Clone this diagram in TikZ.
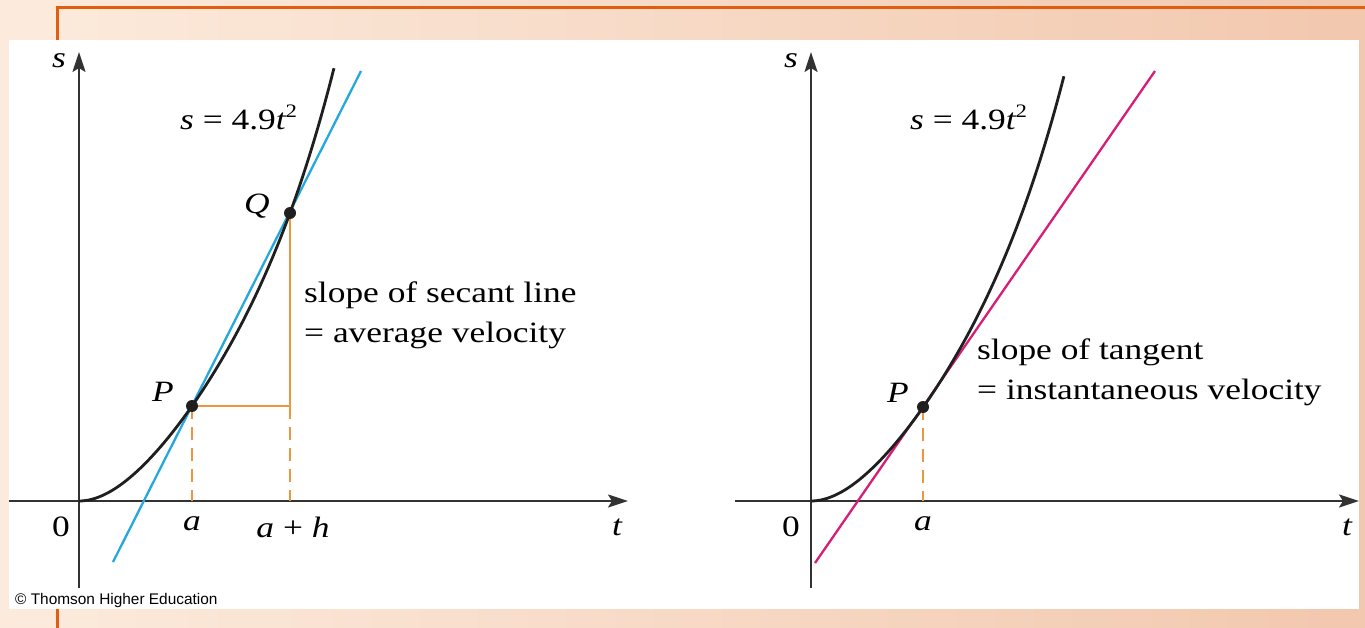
\documentclass[tikz,border=0pt]{standalone}
\usepackage{fontspec}
\setmainfont{Liberation Serif}[FakeStretch=1.2]
\newfontfamily\sansf{Liberation Sans}
\usetikzlibrary{arrows.meta}
\definecolor{bgL}{RGB}{252,235,221}
\definecolor{bgR}{RGB}{242,200,174}
\definecolor{frameor}{RGB}{224,94,14}
\definecolor{axisgray}{RGB}{50,50,50}
\definecolor{secblue}{RGB}{38,168,222}
\definecolor{tanmag}{RGB}{214,30,120}
\definecolor{guideor}{RGB}{236,150,62}
\begin{document}
\begin{tikzpicture}[x=1pt,y=-1pt,
  axis/.style={draw=axisgray,line width=2pt,-{Stealth[length=20pt,width=13pt,inset=4pt]}},
  curve/.style={draw=black!88,line width=2.8pt},
  secant/.style={draw=secblue,line width=2.3pt},
  tangentln/.style={draw=tanmag,line width=2.3pt},
  guide/.style={draw=guideor,line width=2.6pt},
  guidedash/.style={draw=guideor,line width=2.6pt,dash pattern=on 13pt off 8pt},
  dotpt/.style={fill=black!88},
  lab/.style={inner sep=0pt,font=\fontsize{29.5}{40}\selectfont},
  ilab/.style={inner sep=0pt,font=\fontsize{29.5}{40}\selectfont\itshape},
  txt/.style={inner sep=0pt,anchor=base west,align=left,font=\fontsize{29.5}{40}\selectfont}
]
\useasboundingbox (0,0) rectangle (1365,628);
\shade[left color=bgL,right color=bgR] (0,0) rectangle (1365,628);
\draw[frameor,line width=3pt] (57,628) -- (57,8) -- (1365,8);
\fill[white] (9,40) rectangle (1359,609);

% ---------- left graph ----------
\coordinate (O1) at (79,501);
\coordinate (S1b) at (79,588);
\coordinate (S1t) at (79,52);
\coordinate (T1l) at (9,501);
\coordinate (T1r) at (628,501);
\coordinate (P1) at (192,406);
\coordinate (Q1) at (290,213);
\coordinate (C1) at (290,406);
\coordinate (A1) at (192,501);
\coordinate (A2) at (290,501);
\coordinate (B1) at (113,562);
\coordinate (B2) at (361,71);

\draw[axis] (S1b) -- (S1t);
\draw[axis] (T1l) -- (T1r);
\draw[guide] (P1) -- (C1);
\draw[guide] (Q1) -- (C1);
\draw[guidedash] (P1) -- (A1);
\draw[guidedash] (C1) -- (A2);
\draw[secant] (B1) -- (B2);
\draw[curve,shift={(O1)}] plot[domain=0:2.55,samples=80,smooth,variable=\u]
  ({100*\u},{-(\u*\u*(109.39-42.26*\u+9.99*\u*\u))});
\fill[dotpt] (P1) circle (6pt);
\fill[dotpt] (Q1) circle (6pt);

\node[ilab] (s1) at (59,61) {s};
\node[ilab] (t1) at (617,527) {t};
\node[lab] (z1) at (61,527) {0};
\node[ilab] (a1) at (192,524) {a};
\node[lab] (ah1) at (293,527) {\itshape a\upshape\ +\ \itshape h};
\node[ilab] (Pl1) at (163,392) {P};
\node[ilab] (Ql1) at (257,206) {Q};
\node[txt] (eq1) at (180,130) {\itshape s\upshape\ =\ 4.9\itshape t\upshape\raisebox{0.42em}{\fontsize{19}{19}\selectfont 2}};
\node[txt] (sec1) at (304,342) {slope of secant line\\= average velocity};
\node[inner sep=0pt,anchor=base west,font=\sansf\fontsize{15.4}{17}\selectfont] (copy) at (15,604) {\textcopyright\ Thomson Higher Education};

% ---------- right graph ----------
\coordinate (O2) at (811,501);
\coordinate (S2b) at (811,588);
\coordinate (S2t) at (811,52);
\coordinate (T2l) at (735,501);
\coordinate (T2r) at (1359,501);
\coordinate (P2) at (923,407);
\coordinate (A3) at (923,501);
\coordinate (M1) at (815,563);
\coordinate (M2) at (1155,71);

\draw[axis] (S2b) -- (S2t);
\draw[axis] (T2l) -- (T2r);
\draw[guidedash] (P2) -- (A3);
\draw[tangentln] (M1) -- (M2);
\draw[curve,shift={(O2)}] plot[domain=0:2.53,samples=80,smooth,variable=\u]
  ({100*\u},{-(\u*\u*(109.39-42.26*\u+9.99*\u*\u))});
\fill[dotpt] (P2) circle (6pt);

\node[ilab] (s2) at (791,61) {s};
\node[ilab] (t2) at (1347,527) {t};
\node[lab] (z2) at (791,527) {0};
\node[ilab] (a2) at (923,524) {a};
\node[ilab] (Pl2) at (898,393) {P};
\node[txt] (eq2) at (910,130) {\itshape s\upshape\ =\ 4.9\itshape t\upshape\raisebox{0.42em}{\fontsize{19}{19}\selectfont 2}};
\node[txt] (tan2) at (977,399) {slope of tangent\\= instantaneous velocity};
\end{tikzpicture}
\end{document}
